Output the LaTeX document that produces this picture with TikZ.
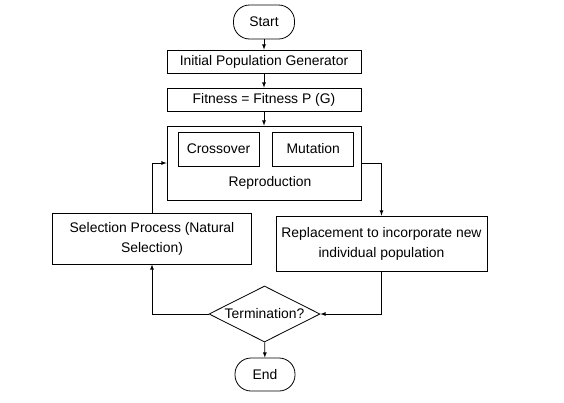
\documentclass[tikz,border=0pt]{standalone}
\usepackage{fontspec}
\setmainfont{Liberation Sans}
\usetikzlibrary{positioning,shapes.geometric}

\begin{document}
\begin{tikzpicture}[
  x=1pt,y=1pt,
  every node/.style={font=\fontsize{13.9}{20}\selectfont,inner sep=0pt},
  box/.style={draw,rectangle,line width=0.8pt,align=center},
  term/.style={draw,rectangle,rounded corners=16pt,line width=0.8pt,
    minimum width=61pt,minimum height=34pt},
  decide/.style={draw,diamond,line width=0.8pt,aspect=2,
    minimum width=111pt,minimum height=56pt},
  every path/.style={line width=0.8pt,>=latex},
  ]
  \useasboundingbox (0,0) rectangle (564,-402);
  \node[term](nstart) at (264,-22){Start};
  \node[box,minimum width=194pt,minimum height=23pt](ninit) at (264,-61.5){Initial Population Generator};
  \node[box,minimum width=194pt,minimum height=23pt](nfit) at (264,-99.5){Fitness = Fitness P (G)};
  \node[box,minimum width=194pt,minimum height=74pt](nrepro) at (264,-163){};
  \node[box,minimum width=81pt,minimum height=34pt](ncross) at (218.5,-149){Crossover};
  \node[box,minimum width=81pt,minimum height=34pt,right=13pt of ncross](nmut){Mutation};
  \node(nreprotext) at (270,-183){Reproduction};
  \node[box,minimum width=199pt,minimum height=51pt](nsel) at (152,-238.5){Selection Process (Natural\\Selection)};
  \node[box,minimum width=211pt,minimum height=55pt](nrepl) at (381.5,-243.5){Replacement to incorporate new\\individual population};
  \node[decide](nterm) at (264.5,-314){Termination?};
  \node[term,minimum width=60pt,minimum height=33pt](nend) at (265,-374.5){End};
  \path[->]
  (nstart) edge (ninit)
  (ninit) edge (nfit)
  (nfit) edge (nrepro)
  (nrepro.east) edge[to path={-| (\tikztotarget)}] (nrepl.north)
  (nrepl.south) edge[to path={|- (\tikztotarget)}] (nterm.east)
  (nterm.west) edge[to path={-| (\tikztotarget)}] (nsel.south)
  (nsel.north) edge[to path={|- (\tikztotarget)}] (nrepro.west)
  (nterm) edge (nend);
\end{tikzpicture}
\end{document}
